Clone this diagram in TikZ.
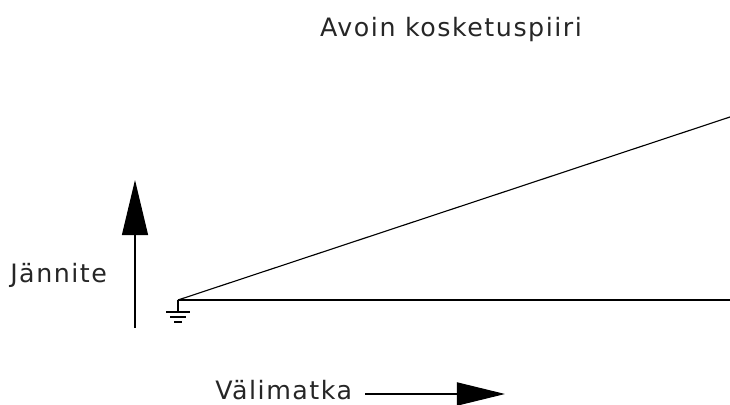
\documentclass[tikz,border=0pt]{standalone}
\usepackage{fontspec}
\setmainfont{DejaVu Sans}[LetterSpace=6]
\usetikzlibrary{arrows.meta}
\tikzset{
  label text/.style={font=\fontsize{18}{21}\selectfont, inner sep=0pt, text=black!85},
  wire/.style={line width=0.8pt},
}
\begin{document}
\begin{tikzpicture}[x=0.025cm, y=-0.025cm]
  \useasboundingbox (0,0) rectangle (730,405);
  % title
  \node[label text] (title) at (451,30) {Avoin kosketuspiiri};
  % voltage axis
  \coordinate (vbot) at (135,328);
  \coordinate (vtop) at (135,180);
  \draw[wire, -{Triangle[length=1.375cm, width=0.65cm]}] (vbot) -- (vtop);
  \node[label text, anchor=west] (volt) at (10,275) {Jännite};
  % distance axis
  \node[label text, anchor=west] (dist) at (215,390) {Välimatka};
  \coordinate (dstart) at (365,394);
  \coordinate (dend) at (505,394);
  \draw[wire, -{Triangle[length=1.2cm, width=0.58cm]}] (dstart) -- (dend);
  % lines from ground
  \coordinate (gnd) at (178,300);
  \coordinate (far) at (730,300);
  \coordinate (top) at (730,117);
  \draw[wire] (gnd) -- (far);
  \draw[wire] (gnd) -- (top);
  % ground symbol
  \draw[wire] (gnd) -- ++(0,12) coordinate (gbar);
  \draw[wire] (gbar) ++(-12,0) -- ++(24,0);
  \draw[wire] (gbar) ++(-8,5) -- ++(16,0);
  \draw[wire] (gbar) ++(-4,10) -- ++(8,0);
\end{tikzpicture}
\end{document}
